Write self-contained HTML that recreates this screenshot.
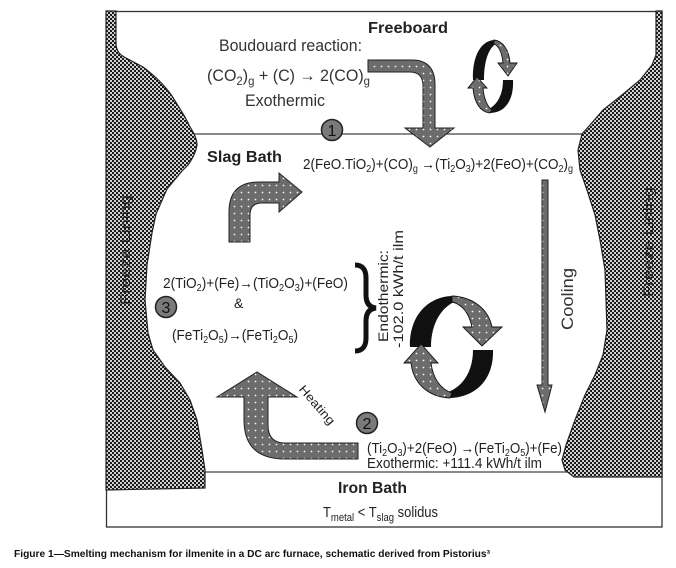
<!DOCTYPE html>
<html><head><meta charset="utf-8"><style>
html,body{margin:0;padding:0;background:#fff;}
svg{display:block;}
text{font-family:"Liberation Sans",Arial,sans-serif;}
</style></head><body>
<svg width="676" height="568" viewBox="0 0 676 568" xmlns="http://www.w3.org/2000/svg">
<defs>
<pattern id="lin" width="4" height="4" patternUnits="userSpaceOnUse">
<rect width="4" height="4" fill="#d2d2d2"/>
<rect width="2" height="2" fill="#1a1a1a"/>
<rect x="2" y="2" width="2" height="2" fill="#1a1a1a"/>
</pattern>
<pattern id="dot" width="7" height="7" patternUnits="userSpaceOnUse">
<rect width="7" height="7" fill="#6c6c6c"/>
<circle cx="3.5" cy="3.5" r="0.9" fill="#f4f4f4"/>
</pattern>
</defs>
<rect width="676" height="568" fill="#fff"/>
<!-- frame -->
<rect x="106.5" y="11.5" width="555.5" height="515.5" fill="none" stroke="#333" stroke-width="1.3"/>
<line x1="106" y1="134" x2="662" y2="134" stroke="#444" stroke-width="1.3"/>
<line x1="106" y1="472" x2="662" y2="472" stroke="#444" stroke-width="1.3"/>

<!-- left lining -->
<path d="M106,11 L116,11 L116,45 C117,52 120,55 126,58 L143,67 C155,76 165,86 172,96 L185,117 L190,127 C194,133 197,140 197,145 C196,152 193,158 188,165 L182,171 L167,189 L156,214 L152,233 L147,265 L145,300 L148,333 L153,350 L165,367 L180,383 L190,400 L197,420 L202,450 L205,470 L205,488 L106,490 Z" fill="url(#lin)" stroke="#222" stroke-width="1.2"/>
<!-- right lining -->
<path d="M662,11 L656,11 L656,55 L652,65 L640,80 L622,95 L603,110 L590,125 L582,134 L578,150 L580,170 L587,190 L595,215 L600,240 L605,270 L606,300 L607,330 L603,355 L595,375 L585,395 L575,420 L566,445 L562,460 L565,470 L574,477 L662,477 Z" fill="url(#lin)" stroke="#222" stroke-width="1.2"/>

<!-- Freeze lining labels -->
<text transform="translate(130,305) rotate(-90)" font-size="14" fill="#222" textLength="110" lengthAdjust="spacingAndGlyphs">Freeze Lining</text>
<text transform="translate(653,297) rotate(-90)" font-size="14" fill="#222" textLength="110" lengthAdjust="spacingAndGlyphs">Freeze Lining</text>

<!-- Boudouard arrow -->
<path d="M368,60 L412,60 Q435,60 435,85 L435,128 L454,128 L430,147 L405,128 L423,128 L423,86 Q423,72 410,72 L368,72 Z" fill="url(#dot)" stroke="#222" stroke-width="1"/>

<!-- small circular arrow (freeboard) -->
<path d="M473,80 C472,58 480,41 494,40 L499,42 C489,46 484,60 484,80 Z" fill="#111"/>
<path d="M494,40 C503,41 509,50 510,63 L517,63 L508,76 L498,63 L503,63 C502,53 499,46 494,44 Z" fill="url(#dot)" stroke="#111" stroke-width="0.9"/>
<path d="M513,80 C514,100 505,113 490,113 L486,110 C496,107 503,96 503,80 Z" fill="#111"/>
<path d="M490,113 C480,112 474,102 473,88 L468,88 L477,77 L487,88 L483,88 C484,100 488,107 492,110 Z" fill="url(#dot)" stroke="#111" stroke-width="0.9"/>

<!-- slag bath arrow -->
<path d="M229,242 L229,212 Q229,182 259,182 L279,182 L279,173 L302,192 L279,212 L279,203 L262,203 Q250,203 250,215 L250,242 Z" fill="url(#dot)" stroke="#222" stroke-width="1"/>

<!-- cooling arrow -->
<path d="M542,180 L548,180 L548,385 L552,385 L545,412 L537,385 L542,385 Z" fill="url(#dot)" stroke="#222" stroke-width="1"/>

<!-- big circular arrow -->
<path d="M410,347 C409,318 426,297 452,296 L460,300 C443,304 431,322 431,347 Z" fill="#111"/>
<path d="M452,296 C472,297 488,308 492,327 L502,327 L482,346 L463,327 L472,327 C469,313 462,304 452,302 Z" fill="url(#dot)" stroke="#111" stroke-width="0.9"/>
<path d="M493,350 C494,377 478,397 450,398 L440,394 C461,391 473,373 473,350 Z" fill="#111"/>
<path d="M450,398 C428,397 413,383 411,363 L404,363 L421,344 L438,363 L431,363 C433,378 440,389 452,393 Z" fill="url(#dot)" stroke="#111" stroke-width="0.9"/>

<!-- heating arrow -->
<path d="M358,443 L285,443 Q268,443 268,425 L268,397 L297,397 L257,372 L217,397 L244,397 L244,420 Q244,459 285,459 L358,459 Z" fill="url(#dot)" stroke="#222" stroke-width="1"/>

<!-- brace -->
<path d="M355,265 Q366,265 366,278 L366,295 Q366,307 376,308 Q366,309 366,321 L366,338 Q366,351 355,351" fill="none" stroke="#111" stroke-width="5"/>

<!-- circles -->
<circle cx="332" cy="130" r="10.5" fill="#7a7a7a" stroke="#222" stroke-width="1.5"/>
<text x="332" y="136" font-size="16" text-anchor="middle" fill="#111">1</text>
<circle cx="166" cy="307" r="10.5" fill="#7a7a7a" stroke="#222" stroke-width="1.5"/>
<text x="166" y="313" font-size="16" text-anchor="middle" fill="#111">3</text>
<circle cx="367" cy="423" r="10.5" fill="#7a7a7a" stroke="#222" stroke-width="1.5"/>
<text x="367" y="429" font-size="16" text-anchor="middle" fill="#111">2</text>

<!-- texts -->
<text x="368" y="33" font-size="16" font-weight="bold" fill="#222" textLength="80" lengthAdjust="spacingAndGlyphs">Freeboard</text>
<text x="219" y="51" font-size="17" fill="#333" textLength="143" lengthAdjust="spacingAndGlyphs">Boudouard reaction:</text>
<text x="207" y="81" font-size="17" fill="#333" textLength="163" lengthAdjust="spacingAndGlyphs">(CO<tspan font-size="12" dy="4">2</tspan><tspan dy="-4">)</tspan><tspan font-size="12" dy="4">g</tspan><tspan dy="-4"> + (C) → 2(CO)</tspan><tspan font-size="12" dy="4">g</tspan></text>
<text x="245" y="106" font-size="17" fill="#333" textLength="80" lengthAdjust="spacingAndGlyphs">Exothermic</text>

<text x="207" y="162" font-size="16" font-weight="bold" fill="#222" textLength="75" lengthAdjust="spacingAndGlyphs">Slag Bath</text>
<text x="303" y="169" font-size="15" fill="#222" textLength="270" lengthAdjust="spacingAndGlyphs">2(FeO.TiO<tspan font-size="10" dy="3">2</tspan><tspan dy="-3">)+(CO)</tspan><tspan font-size="10" dy="3">g</tspan><tspan dy="-3"> →(Ti</tspan><tspan font-size="10" dy="3">2</tspan><tspan dy="-3">O</tspan><tspan font-size="10" dy="3">3</tspan><tspan dy="-3">)+2(FeO)+(CO</tspan><tspan font-size="10" dy="3">2</tspan><tspan dy="-3">)</tspan><tspan font-size="10" dy="3">g</tspan></text>

<text x="163" y="288" font-size="15" fill="#222" textLength="185" lengthAdjust="spacingAndGlyphs">2(TiO<tspan font-size="10" dy="3">2</tspan><tspan dy="-3">)+(Fe)→(TiO</tspan><tspan font-size="10" dy="3">2</tspan><tspan dy="-3">O</tspan><tspan font-size="10" dy="3">3</tspan><tspan dy="-3">)+(FeO)</tspan></text>
<text x="234" y="308" font-size="14" fill="#222">&amp;</text>
<text x="172" y="340" font-size="15" fill="#222" textLength="126" lengthAdjust="spacingAndGlyphs">(FeTi<tspan font-size="10" dy="3">2</tspan><tspan dy="-3">O</tspan><tspan font-size="10" dy="3">5</tspan><tspan dy="-3">)→(FeTi</tspan><tspan font-size="10" dy="3">2</tspan><tspan dy="-3">O</tspan><tspan font-size="10" dy="3">5</tspan><tspan dy="-3">)</tspan></text>

<text transform="translate(388,342) rotate(-90)" font-size="14" fill="#222" textLength="92" lengthAdjust="spacingAndGlyphs">Endothermic:</text>
<text transform="translate(403,348) rotate(-90)" font-size="14" fill="#222" textLength="118" lengthAdjust="spacingAndGlyphs">-102.0 kWh/t ilm</text>
<text transform="translate(573,330) rotate(-90)" font-size="17" fill="#333" textLength="62" lengthAdjust="spacingAndGlyphs">Cooling</text>

<text transform="translate(317,405) rotate(49)" x="0" y="4" font-size="12" fill="#222" text-anchor="middle" textLength="48" lengthAdjust="spacingAndGlyphs">Heating</text>

<text x="367" y="453" font-size="15" fill="#222" textLength="195" lengthAdjust="spacingAndGlyphs">(Ti<tspan font-size="10" dy="3">2</tspan><tspan dy="-3">O</tspan><tspan font-size="10" dy="3">3</tspan><tspan dy="-3">)+2(FeO) →(FeTi</tspan><tspan font-size="10" dy="3">2</tspan><tspan dy="-3">O</tspan><tspan font-size="10" dy="3">5</tspan><tspan dy="-3">)+(Fe)</tspan></text>
<text x="367" y="468" font-size="15" fill="#222" textLength="175" lengthAdjust="spacingAndGlyphs">Exothermic: +111.4 kWh/t ilm</text>

<text x="338" y="493" font-size="16" font-weight="bold" fill="#222" textLength="69" lengthAdjust="spacingAndGlyphs">Iron Bath</text>
<text x="323" y="517" font-size="15" fill="#222" textLength="115" lengthAdjust="spacingAndGlyphs">T<tspan font-size="11" dy="4">metal</tspan><tspan dy="-4"> &lt; T</tspan><tspan font-size="11" dy="4">slag</tspan><tspan dy="-4"> solidus</tspan></text>

<text x="14" y="557" font-size="10.5" font-weight="bold" fill="#111" textLength="476" lengthAdjust="spacingAndGlyphs">Figure 1—Smelting mechanism for ilmenite in a DC arc furnace, schematic derived from Pistorius³</text>
</svg>
</body></html>
